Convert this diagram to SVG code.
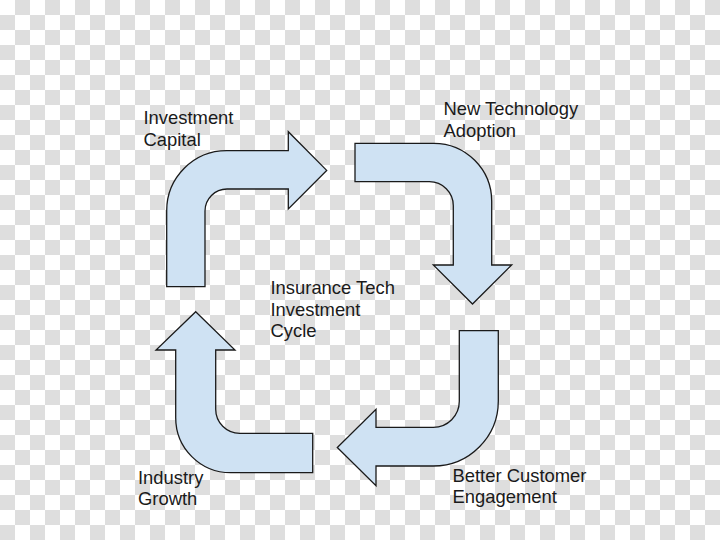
<svg xmlns="http://www.w3.org/2000/svg" width="720" height="540" viewBox="0 0 720 540">
<defs>
<pattern id="checker" x="0" y="0" width="30" height="30" patternUnits="userSpaceOnUse">
<rect x="0" y="0" width="30" height="30" fill="#ffffff"/>
<rect x="15" y="0" width="15" height="15" fill="#dedede"/>
<rect x="0" y="15" width="15" height="15" fill="#dedede"/>
</pattern>
</defs>
<style>
.arrow{fill:#cfe2f3;stroke:#1a1a1a;stroke-width:1.3;stroke-linejoin:miter}
.lbl{font-family:"Liberation Sans",Arial,sans-serif;font-size:18.4px;fill:#1a1a1a}
</style>
<rect x="0" y="0" width="720" height="540" fill="url(#checker)"/>
<g id="connectors">
<path id="arrow-capital-to-adoption" class="arrow" d="M166.7,286.7 L166.7,210.7 A60,60 0 0 1 226.7,150.7 L288.3,150.7 L288.3,131.7 L326.7,170.4 L288.3,209 L288.3,189 L227,189 A22,22 0 0 0 205,211 L205,286.7 Z"/>
<path id="arrow-adoption-to-engagement" class="arrow" d="M355,143.3 L433.7,143.3 A58,58 0 0 1 491.7,201.3 L491.7,265 L511.7,265 L472.5,304 L433.3,265 L453.3,265 L453.3,205.7 A24,24 0 0 0 429.3,181.7 L355,181.7 Z"/>
<path id="arrow-engagement-to-growth" class="arrow" d="M459.3,330.7 L498.3,330.7 L498.3,401 A65,65 0 0 1 433.3,466 L376,466 L376,485.7 L337.3,447.5 L376,409.3 L376,427.3 L433.3,427.3 A26,26 0 0 0 459.3,401.3 Z"/>
<path id="arrow-growth-to-capital" class="arrow" d="M195.7,311.7 L235,350 L215.7,350 L215.7,409.3 A24,24 0 0 0 239.7,433.3 L312.7,433.3 L312.7,472.7 L230.7,472.7 A55,55 0 0 1 175.7,417.7 L175.7,350 L156,350 Z"/>
</g>
<g id="node-investment-capital">
<text class="lbl" x="143.5" y="124.3">Investment</text>
<text class="lbl" x="143.5" y="145.8">Capital</text>
</g>
<g id="node-new-technology-adoption">
<text class="lbl" x="443.5" y="115.3">New Technology</text>
<text class="lbl" x="443.5" y="136.8">Adoption</text>
</g>
<g id="node-cycle">
<text class="lbl" x="270.5" y="294">Insurance Tech</text>
<text class="lbl" x="270.5" y="315.5">Investment</text>
<text class="lbl" x="270.5" y="337">Cycle</text>
</g>
<g id="node-better-customer-engagement">
<text class="lbl" x="452.5" y="481.7">Better Customer</text>
<text class="lbl" x="452.5" y="503.2">Engagement</text>
</g>
<g id="node-industry-growth">
<text class="lbl" x="138" y="483.5">Industry</text>
<text class="lbl" x="138" y="505">Growth</text>
</g>
</svg>
